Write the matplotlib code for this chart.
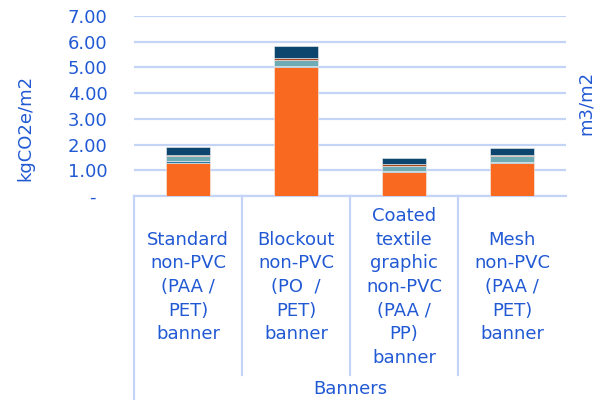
import matplotlib.pyplot as plt
import numpy as np

# Chart data (kgCO2e/m2)
categories = ['Standard\nnon-PVC\n(PAA /\nPET)\nbanner',
              'Blockout\nnon-PVC\n(PO  /\nPET)\nbanner',
              'Coated\ntextile\ngraphic\nnon-PVC\n(PAA /\nPP)\nbanner',
              'Mesh\nnon-PVC\n(PAA /\nPET)\nbanner']
group_label = 'Banners'
material = [1.30, 5.03, 0.95, 1.29]
layer2 = [0.05, 0.03, 0.03, 0.04]
layer3 = [0.20, 0.21, 0.20, 0.22]
layer4 = [0.05, 0.09, 0.07, 0.05]
layer5 = [0.30, 0.49, 0.23, 0.25]
y_ticks = [0, 1, 2, 3, 4, 5, 6, 7]
y_tick_labels = ['-  ', '1.00', '2.00', '3.00', '4.00', '5.00', '6.00', '7.00']

series = [material, layer2, layer3, layer4, layer5]
colors = ['#f96a20', '#2f78a8', '#6eabb4', '#a9441c', '#0c466e']

text_blue = '#2159d4'
grid_blue = '#c3d4f6'
plt.rcParams['font.family'] = 'DejaVu Sans'

fig = plt.figure(figsize=(5.96, 4.0), dpi=100)
ax = fig.add_axes([134 / 596, 0.51, 432 / 596, 0.45])

x = np.arange(len(categories))
bottom = np.zeros(len(categories))
for vals, c in zip(series, colors):
    ax.bar(x, vals, width=0.41, bottom=bottom, color=c, edgecolor='#f2f2f2',
           linewidth=0.4, zorder=3)
    bottom += np.array(vals)

ax.set_xlim(-0.5, len(categories) - 0.5)
ax.set_ylim(0, 7)
ax.set_yticks(y_ticks)
ax.set_yticklabels(y_tick_labels, fontsize=13, color=text_blue)
ax.tick_params(axis='y', length=0, pad=19)
ax.set_xticks([])
ax.grid(axis='y', color=grid_blue, linewidth=1.6, zorder=0)
for s in ax.spines.values():
    s.set_visible(False)

# category labels under each column
for i, lab in enumerate(categories):
    ax.text(i, -0.5056, lab, transform=ax.get_xaxis_transform(), ha='center',
            va='center', fontsize=13, color=text_blue, linespacing=1.4)

# category separators and outer frame
ax.plot([0, 1], [0, 0], transform=ax.transAxes, color=grid_blue, lw=1.6,
        clip_on=False, zorder=2)
ax.plot([0, 0], [0, -1.14], transform=ax.transAxes, color=grid_blue, lw=1.6,
        clip_on=False)
for xs in [0.25, 0.5, 0.75]:
    ax.plot([xs, xs], [0, -0.994], transform=ax.transAxes, color=grid_blue,
            lw=1.6, clip_on=False)

fig.text(350 / 596, 0.005, group_label, ha='center', va='bottom',
         fontsize=13, color=text_blue)
fig.text(25 / 596, 1 - 128 / 400, 'kgCO2e/m2', rotation=90, ha='center',
         va='center', fontsize=13, color=text_blue)
fig.text(586 / 596, 1 - 103 / 400, 'm3/m2', rotation=90, ha='center',
         va='center', fontsize=13, color=text_blue)

fig.savefig('out.png', dpi=100)
